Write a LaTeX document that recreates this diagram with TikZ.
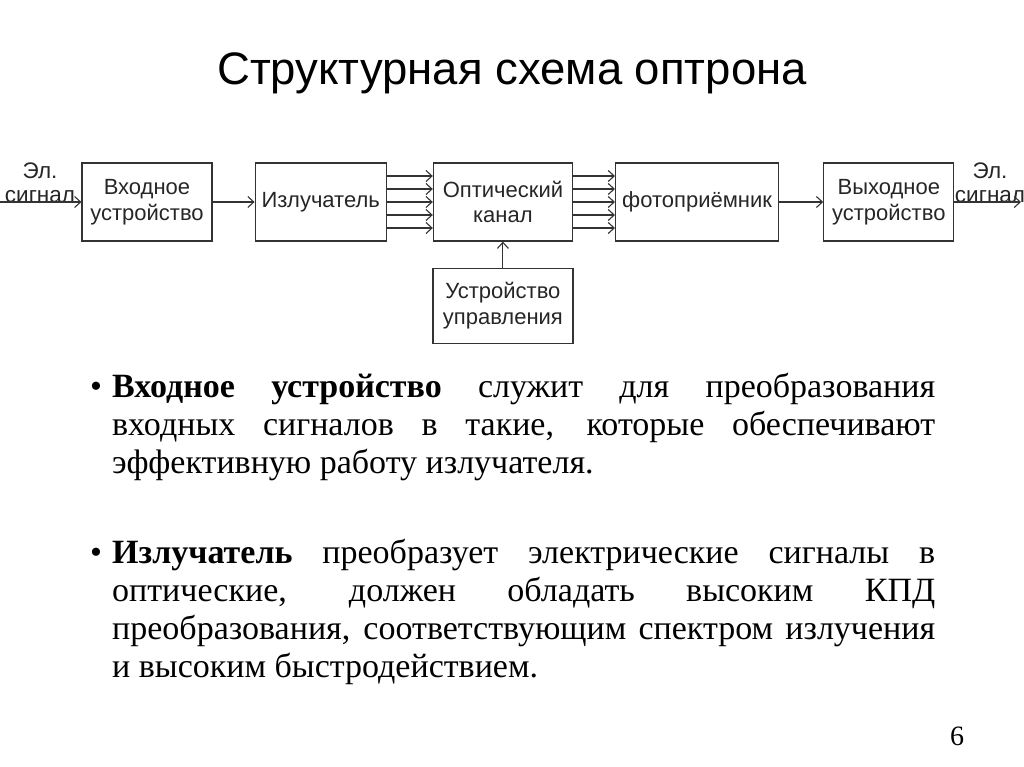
\documentclass[tikz,border=0pt]{standalone}
\usepackage{fontspec}
\setmainfont{Liberation Serif}
\setsansfont{Liberation Sans}
\usetikzlibrary{positioning, arrows.meta}
\tikzstyle{blk} = [rectangle, draw=black!80, line width=1.2pt, minimum height=78pt, inner sep=2pt, align=center, font=\sffamily\fontsize{22}{25.5}\selectfont, text=black!85]
\tikzstyle{arrow} = [line width=1.1pt, draw=black!80, -{Straight Barb[length=6pt, width=11pt, line width=1.1pt]}]
\tikzstyle{lbl} = [inner sep=0pt, align=center, font=\sffamily\fontsize{22.5}{24}\selectfont, text=black!85]
\tikzstyle{para} = [anchor=north west, inner sep=0pt, text width=823pt, align=justify, font=\fontsize{34}{38}\selectfont]

\begin{document}
\begin{tikzpicture}[x=1pt, y=-1pt]
    \useasboundingbox (0,0) rectangle (1024,767);

    \node (title) [font=\sffamily\fontsize{45.5}{50}\selectfont, anchor=base] at (512,85) {Структурная схема оптрона};

    \node (inp)  [blk, minimum width=130pt] at (147,202) {Входное\\устройство};
    \node (emit) [blk, minimum width=131pt, right=42pt of inp] {Излучатель};
    \node (chan) [blk, minimum width=139pt, right=46pt of emit] {Оптический\\канал};
    \node (phot) [blk, minimum width=163pt, right=42pt of chan] {фотоприёмник};
    \node (outp) [blk, minimum width=130pt, right=44pt of phot] {Выходное\\устройство};
    \node (ctrl) [blk, minimum width=140pt, minimum height=75pt, below=26pt of chan] {Устройство\\управления};

    \coordinate (sigL) at (0,202);
    \coordinate (sigR) at (1021,202);
    \node (lblL) [lbl, anchor=south] at (40,203) {Эл.\\сигнал};
    \node (lblR) [lbl, anchor=south] at (990,203) {Эл.\\сигнал};

    \draw [arrow] (sigL) -- (inp);
    \draw [arrow] (inp) -- (emit);
    \foreach \dy in {-26,-13,0,13,26}
      \draw [arrow] ([yshift=\dy pt]emit.east) -- ([yshift=\dy pt]chan.west);
    \foreach \dy in {-26,-13,0,13,26}
      \draw [arrow] ([yshift=\dy pt]chan.east) -- ([yshift=\dy pt]phot.west);
    \draw [arrow] (phot) -- (outp);
    \draw [arrow] (outp.east) -- (sigR);
    \draw [arrow] (ctrl) -- (chan);

    % bullets
    \node (b1) [anchor=base, font=\fontsize{34}{38}\selectfont] at (96,397) {•};
    \node (p1) [para] at (112,373) {\hyphenpenalty=10000 \textbf{Входное устройство} служит для преобразования\linebreak входных сигналов в такие, которые обеспечивают\linebreak эффективную работу излучателя.};
    \node (b2) [anchor=base, font=\fontsize{34}{38}\selectfont] at (96,563) {•};
    \node (p2) [para] at (112,539) {\hyphenpenalty=10000 \textbf{Излучатель} преобразует электрические сигналы в\linebreak оптические, должен обладать высоким КПД\linebreak преобразования, соответствующим спектром излучения\linebreak и высоким быстродействием.};

    \node (page) [anchor=base, font=\fontsize{28}{32}\selectfont] at (957,745) {6};
\end{tikzpicture}
\end{document}
